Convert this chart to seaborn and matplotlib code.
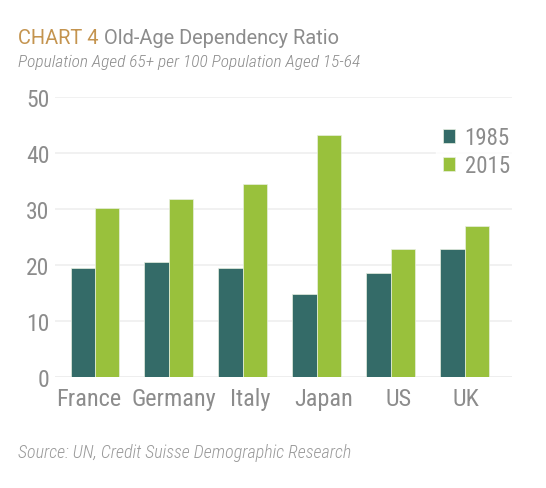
import matplotlib
matplotlib.use('Agg')
import matplotlib.pyplot as plt
import matplotlib.transforms as mtransforms
import seaborn as sns
import pandas as pd

countries = ['France', 'Germany', 'Italy', 'Japan', 'US', 'UK']
ratio_1985 = [19.5, 20.6, 19.4, 14.9, 18.6, 22.9]
ratio_2015 = [30.1, 31.7, 34.4, 43.2, 22.9, 27.0]
years = ['1985', '2015']
y_ticks = [0, 10, 20, 30, 40, 50]
# small horizontal nudges (px) of the country labels, as in the original layout
label_shift = [-6, 5.5, 7, 6.5, 8, 1.5]

teal = '#346b68'
green = '#99c13c'
gray = '#8c8c8c'
gold = '#c4944f'

df = pd.DataFrame({
    'country': countries * 2,
    'ratio': ratio_1985 + ratio_2015,
    'year': [years[0]] * len(countries) + [years[1]] * len(countries),
})

sns.set_style('white')
plt.rcParams['font.family'] = ['Roboto Condensed', 'DejaVu Sans']

fig = plt.figure(figsize=(5.46, 4.89), dpi=100)
ax = fig.add_axes([0.1007, 0.227, 0.837, 0.5726])

sns.barplot(data=df, x='country', y='ratio', hue='year', palette=[teal, green],
            width=0.66, gap=0, saturation=1, edgecolor='#e8f0e0', linewidth=0.5, ax=ax)

ax.set_xlim(-0.54, 5.64)
ax.set_ylim(0, 50)
ax.set_yticks(y_ticks)
ax.set_yticklabels([str(t) for t in y_ticks])
ax.grid(axis='y', color='#efefef', linewidth=1.2)
ax.set_axisbelow(True)
for s in ax.spines.values():
    s.set_visible(False)
ax.axhline(0, color='#e6e6e6', linewidth=1.2, zorder=0)
ax.set_xlabel('')
ax.set_ylabel('')
ax.tick_params(axis='both', length=0, colors=gray)
ax.tick_params(axis='y', labelsize=17, pad=4)
ax.tick_params(axis='x', labelsize=17.5, pad=7)

for lab, dx in zip(ax.get_xticklabels(), label_shift):
    off = mtransforms.ScaledTranslation(dx / 100, 0, fig.dpi_scale_trans)
    lab.set_transform(lab.get_transform() + off)

leg = ax.legend(loc='upper right', bbox_to_anchor=(1.01, 0.92), frameon=True,
                fontsize=16.5, handlelength=0.55, handleheight=0.55, handletextpad=0.4,
                labelspacing=0.2, borderpad=0.3, borderaxespad=0)
leg.get_frame().set_facecolor('white')
leg.get_frame().set_edgecolor('white')
for t in leg.get_texts():
    t.set_color(gray)

t1 = fig.text(18 / 546, 1 - 44 / 489, 'CHART 4 ', color=gold, fontsize=14.4,
              family=['Roboto', 'DejaVu Sans'], va='baseline')
fig.canvas.draw()
bb = t1.get_window_extent()
fig.text(bb.x1 / fig.bbox.width, 1 - 44 / 489, 'Old-Age Dependency Ratio', color=gray,
         fontsize=14.4, family=['Roboto', 'DejaVu Sans'], va='baseline')
fig.text(18 / 546, 1 - 67 / 489, 'Population Aged 65+ per 100 Population Aged 15-64',
         color=gray, fontsize=12.5, style='italic', weight='light', va='baseline')
fig.text(18 / 546, 1 - 458 / 489, 'Source: UN, Credit Suisse Demographic Research',
         color='#9a9a9a', fontsize=13, style='italic', weight='light', va='baseline')

fig.savefig('out.png', dpi=100)
